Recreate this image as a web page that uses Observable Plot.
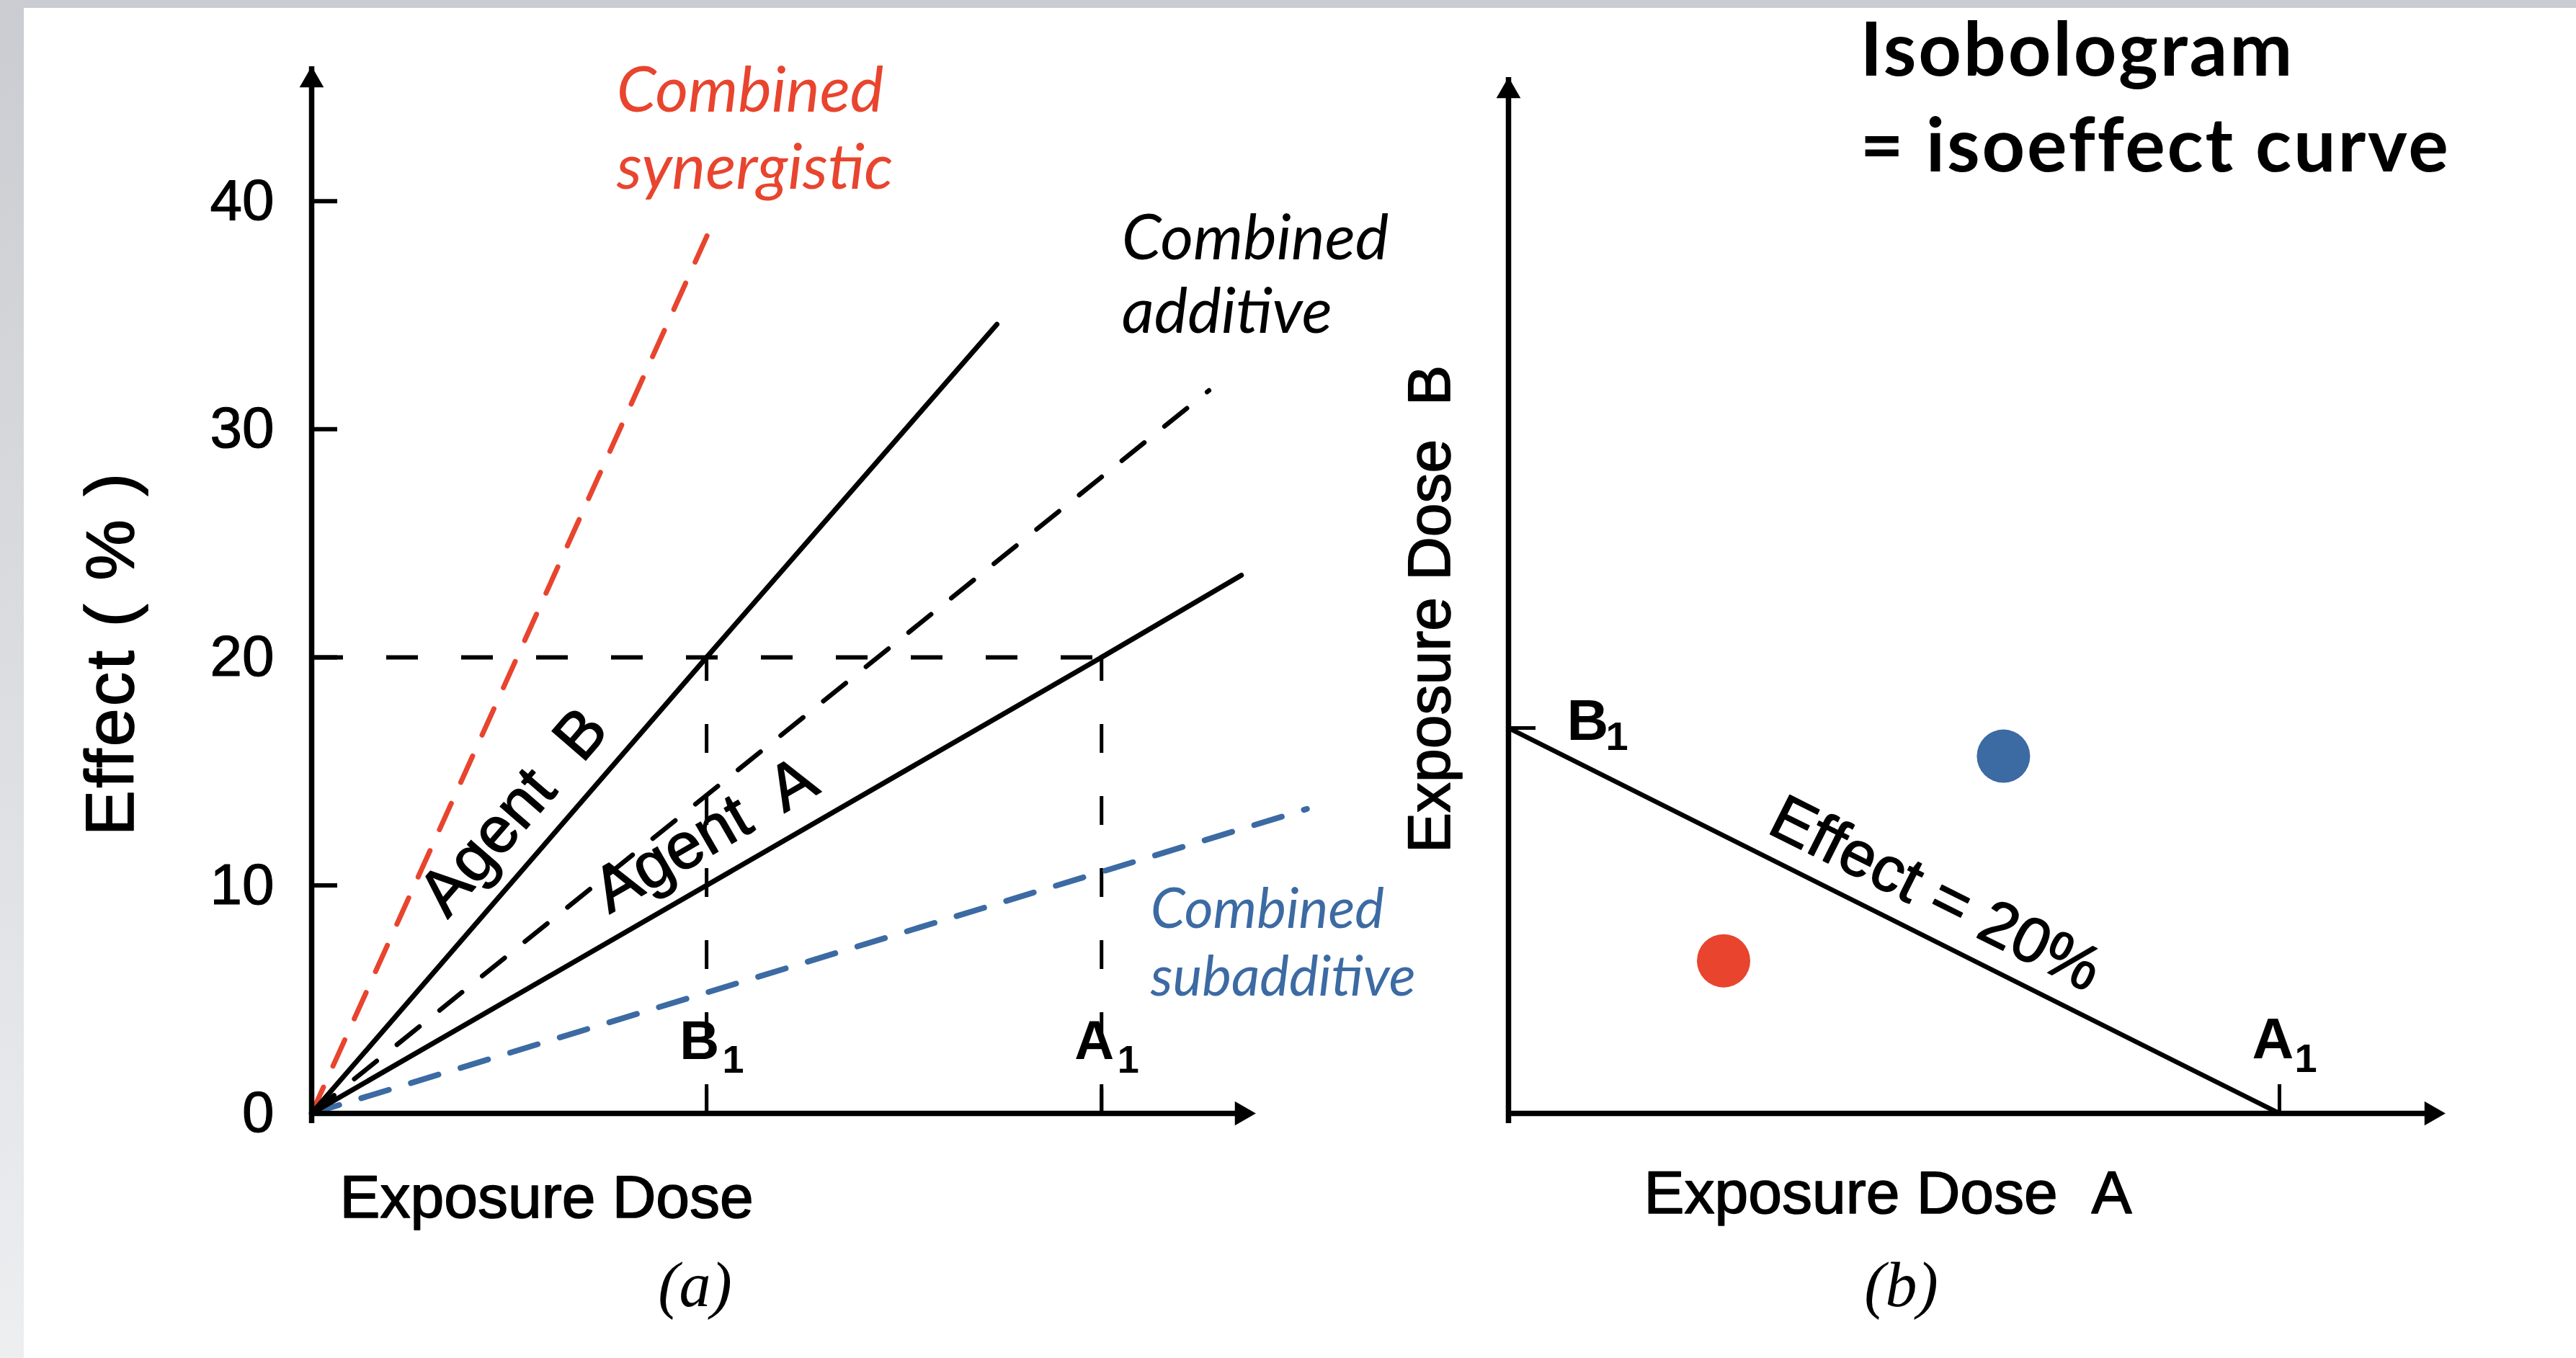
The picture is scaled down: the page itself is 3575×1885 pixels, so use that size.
<!DOCTYPE html>
<html>
<head>
<meta charset="utf-8">
<script src="https://cdn.jsdelivr.net/npm/d3@7"></script>
<script src="https://cdn.jsdelivr.net/npm/@observablehq/plot@0.6"></script>
<style>
html, body { margin: 0; padding: 0; background: #fff; }
#page { position: relative; width: 3575px; height: 1885px; overflow: hidden; background: #fff; }
#topbar { position: absolute; left: 0; top: 0; width: 3575px; height: 11px; background: #cbccd1; }
#leftbar { position: absolute; left: 0; top: 0; width: 33px; height: 1885px; background: linear-gradient(#cbccd1, #eceef0); }
.panel { position: absolute; top: 0; }
#left { left: 0; }
#right { left: 1790px; }
</style>
</head>
<body>
<div id="page">
  <div id="topbar"></div>
  <div id="leftbar"></div>
  <div id="left" class="panel"></div>
  <div id="right" class="panel"></div>
</div>
<script>
// ---------- Panel (a): dose–effect lines ----------
const effectTicks = [0, 10, 20, 30, 40];
const isoEffect = 20;
const doseB1 = 1;
const doseA1 = 2;
const agentBDose = [0, 1, 1.735];
const agentBEffect = [0, 20, 34.6];
const agentADose = [0, 2, 2.354];
const agentAEffect = [0, 20, 23.6];
const additiveDose = [0, 2.272];
const additiveEffect = [0, 31.7];
const synergisticDose = [0, 1.004];
const synergisticEffect = [0, 38.6];
const subadditiveDose = [0, 2.52];
const subadditiveEffect = [0, 13.35];
const doseAxisMax = 2.39;
const effectAxisMax = 45.9;

// ---------- Panel (b): isobologram ----------
const isoboleDoseA = [0, 1];
const isoboleDoseB = [1, 0];
const pointDoseA = [0.642, 0.279];
const pointDoseB = [0.927, 0.396];
const pointKind = ["subadditive", "synergistic"];
const doseAAxisMax = 1.215;
const doseBAxisMax = 2.688;

// ---------- styling ----------
const RED = "#e8442e";
const BLUE = "#3c6aa3";
const sans = "'Liberation Sans', Arial, Helvetica, sans-serif";
const calibriLike = "Lato, 'Open Sans', sans-serif";
const serif = "'Liberation Serif', 'Times New Roman', serif";
const scan = {fill: "black", stroke: "black", strokeWidth: 1.6};

const pts = (xs, ys) => xs.map((x, i) => ({x, y: ys[i]}));
const last = a => a[a.length - 1];
const triRight = {
  draw(ctx, size) {
    const y = Math.sqrt(size / (3 * Math.sqrt(3)));
    ctx.moveTo(2 * y, 0);
    ctx.lineTo(-y, -Math.sqrt(3) * y);
    ctx.lineTo(-y, Math.sqrt(3) * y);
    ctx.closePath();
  }
};
const spaceOut = (svg, re, px) =>
  d3.select(svg).selectAll("text").filter(function () { return re.test(this.textContent); }).attr("letter-spacing", px + "px");

// ---------- left panel ----------
const L = {w: 1790, h: 1885, ml: 432, mr: 48, mt: 92, mb: 340};
const Lfw = L.w - L.ml - L.mr, Lfh = L.h - L.mt - L.mb;

const leftPlot = Plot.plot({
  width: L.w, height: L.h,
  marginLeft: L.ml, marginRight: L.mr, marginTop: L.mt, marginBottom: L.mb,
  x: {domain: [0, doseAxisMax], axis: null},
  y: {domain: [0, effectAxisMax], axis: null},
  style: {background: "transparent", overflow: "visible", fontFamily: sans},
  marks: [
    Plot.ruleY([isoEffect], {x1: 0, x2: doseA1, stroke: "black", strokeWidth: 6, strokeDasharray: "44,60"}),
    Plot.ruleX([doseB1, doseA1], {x: d => d, y1: 0, y2: isoEffect, stroke: "black", strokeWidth: 5, strokeDasharray: "40,60"}),
    Plot.line(pts(subadditiveDose, subadditiveEffect), {x: "x", y: "y", stroke: BLUE, strokeWidth: 8, strokeDasharray: "40,32"}),
    Plot.line(pts(synergisticDose, synergisticEffect), {x: "x", y: "y", stroke: RED, strokeWidth: 7, strokeDasharray: "40,32"}),
    Plot.line(pts(additiveDose, additiveEffect), {x: "x", y: "y", stroke: "black", strokeWidth: 6.5, strokeDasharray: "40,36"}),
    Plot.line(pts(agentADose, agentAEffect), {x: "x", y: "y", stroke: "black", strokeWidth: 7}),
    Plot.line(pts(agentBDose, agentBEffect), {x: "x", y: "y", stroke: "black", strokeWidth: 7}),
    // axes
    Plot.ruleX([0], {y1: 0, y2: effectAxisMax, stroke: "black", strokeWidth: 7.5, insetTop: 14}),
    Plot.ruleY([0], {x1: 0, x2: doseAxisMax, stroke: "black", strokeWidth: 7.5, insetRight: 14}),
    Plot.dot([effectAxisMax], {x: 0, y: d => d, symbol: "triangle", r: 12.5, fill: "black", stroke: null, dy: 19}),
    Plot.dot([doseAxisMax], {x: d => d, y: 0, symbol: triRight, r: 12.5, fill: "black", stroke: null, dx: -19}),
    Plot.tickY(effectTicks.filter(d => d > 0), {y: d => d, stroke: "black", strokeWidth: 6, insetRight: Lfw - 36}),
    Plot.tickX([doseB1, doseA1], {x: d => d, stroke: "black", strokeWidth: 5, insetTop: Lfh - 34}),
    Plot.text(effectTicks, {x: 0, y: d => d, text: d => String(d), textAnchor: "end", lineAnchor: "middle", dx: -52, fontSize: 80, ...scan, strokeWidth: 1.2}),
    // B1 / A1 labels
    Plot.text([doseB1, doseA1], {x: d => d, y: 0, text: ["B", "A"], textAnchor: "middle", lineAnchor: "bottom", dx: -10, dy: -76, fontSize: 76, fontWeight: "bold", fill: "black"}),
    Plot.text([doseB1, doseA1], {x: d => d, y: 0, text: ["1", "1"], textAnchor: "start", lineAnchor: "bottom", dx: 22, dy: -57, fontSize: 54, fontWeight: "bold", fill: "black"}),
    // agent labels
    Plot.text([{x: doseB1 / 2, y: isoEffect / 2}], {x: "x", y: "y", text: ["Agent  B"], rotate: -49.1, textAnchor: "middle", lineAnchor: "middle", dx: 6, dy: -102, fontSize: 90, ...scan}),
    Plot.text([{x: doseA1 / 2, y: isoEffect / 2}], {x: "x", y: "y", text: ["Agent  A"], rotate: -30, textAnchor: "middle", lineAnchor: "middle", dx: -2, dy: -70, fontSize: 90, ...scan}),
    // combined labels
    Plot.text([{x: last(synergisticDose), y: last(synergisticEffect)}], {x: "x", y: "y", text: ["Combined\nsynergistic"], textAnchor: "start", lineAnchor: "bottom", dx: -127, dy: -62, fontSize: 88, lineHeight: 107 / 88, fontStyle: "italic", fontFamily: calibriLike, fill: RED}),
    Plot.text([{x: last(additiveDose), y: last(additiveEffect)}], {x: "x", y: "y", text: ["Combined\nadditive"], textAnchor: "start", lineAnchor: "bottom", dx: -121, dy: -80, fontSize: 88, lineHeight: 102 / 88, fontStyle: "italic", fontFamily: calibriLike, fill: "black"}),
    Plot.text([{x: last(subadditiveDose), y: last(subadditiveEffect)}], {x: "x", y: "y", text: ["Combined\nsubadditive"], textAnchor: "start", lineAnchor: "bottom", dx: -217, dy: 259, fontSize: 77, lineHeight: 94 / 77, fontStyle: "italic", fontFamily: calibriLike, fill: BLUE}),
    // axis titles
    Plot.text(["Exposure Dose"], {frameAnchor: "bottom-left", text: d => d, textAnchor: "start", lineAnchor: "bottom", dx: 39, dy: 144, fontSize: 84, ...scan}),
    Plot.text(["Effect ( % )"], {frameAnchor: "left", text: d => d, rotate: -90, textAnchor: "middle", lineAnchor: "bottom", dx: -248, dy: 88, fontSize: 95, ...scan}),
    Plot.text(["(a)"], {frameAnchor: "bottom-left", text: d => d, textAnchor: "middle", lineAnchor: "bottom", dx: 532, dy: 267, fontSize: 88, fontStyle: "italic", fontFamily: serif, fill: "black"})
  ]
});
spaceOut(leftPlot, /^Effect \(/, 3.2);
document.getElementById("left").appendChild(leftPlot);

// ---------- right panel ----------
const R = {w: 1785, h: 1885, ml: 303, mr: 182, mt: 107, mb: 340};
const Rfw = R.w - R.ml - R.mr, Rfh = R.h - R.mt - R.mb;

const rightPlot = Plot.plot({
  width: R.w, height: R.h,
  marginLeft: R.ml, marginRight: R.mr, marginTop: R.mt, marginBottom: R.mb,
  x: {domain: [0, doseAAxisMax], axis: null},
  y: {domain: [0, doseBAxisMax], axis: null},
  color: {domain: ["synergistic", "subadditive"], range: [RED, BLUE]},
  style: {background: "transparent", overflow: "visible", fontFamily: sans},
  marks: [
    Plot.line(pts(isoboleDoseA, isoboleDoseB), {x: "x", y: "y", stroke: "black", strokeWidth: 6.5}),
    Plot.ruleX([0], {y1: 0, y2: doseBAxisMax, stroke: "black", strokeWidth: 7.5, insetTop: 14}),
    Plot.ruleY([0], {x1: 0, x2: doseAAxisMax, stroke: "black", strokeWidth: 7.5, insetRight: 14}),
    Plot.dot([doseBAxisMax], {x: 0, y: d => d, symbol: "triangle", r: 12.5, fill: "black", stroke: null, dy: 19}),
    Plot.dot([doseAAxisMax], {x: d => d, y: 0, symbol: triRight, r: 12.5, fill: "black", stroke: null, dx: -19}),
    Plot.tickY([isoboleDoseB[0]], {y: d => d, stroke: "black", strokeWidth: 5, insetRight: Rfw - 38}),
    Plot.tickX([isoboleDoseA[1]], {x: d => d, stroke: "black", strokeWidth: 5, insetTop: Rfh - 40}),
    Plot.dot(pointDoseA.map((a, i) => ({a, b: pointDoseB[i], kind: pointKind[i]})), {x: "a", y: "b", fill: "kind", r: 37, stroke: null}),
    // B1 / A1 labels
    Plot.text([isoboleDoseB[0]], {x: 0, y: d => d, text: ["B"], textAnchor: "start", lineAnchor: "bottom", dx: 81, dy: 16, fontSize: 80, fontWeight: "bold", fill: "black"}),
    Plot.text([isoboleDoseB[0]], {x: 0, y: d => d, text: ["1"], textAnchor: "start", lineAnchor: "bottom", dx: 135, dy: 30, fontSize: 56, fontWeight: "bold", fill: "black"}),
    Plot.text([isoboleDoseA[1]], {x: d => d, y: 0, text: ["A"], textAnchor: "middle", lineAnchor: "bottom", dx: -9, dy: -77, fontSize: 80, fontWeight: "bold", fill: "black"}),
    Plot.text([isoboleDoseA[1]], {x: d => d, y: 0, text: ["1"], textAnchor: "start", lineAnchor: "bottom", dx: 21, dy: -58, fontSize: 56, fontWeight: "bold", fill: "black"}),
    Plot.text([{x: 0.5, y: 0.5}], {x: "x", y: "y", text: ["Effect = 20%"], rotate: 26.57, textAnchor: "middle", lineAnchor: "middle", dx: 58, dy: -37, fontSize: 88, ...scan}),
    // axis titles
    Plot.text(["Exposure Dose\u00a0\u00a0A"], {frameAnchor: "bottom-left", text: d => d, textAnchor: "start", lineAnchor: "bottom", dx: 188, dy: 138, fontSize: 84, ...scan}),
    Plot.text(["Exposure Dose\u00a0\u00a0B"], {frameAnchor: "left", text: d => d, rotate: -90, textAnchor: "middle", lineAnchor: "bottom", dx: -82, dy: 19, fontSize: 84, ...scan}),
    Plot.text(["(b)"], {frameAnchor: "bottom-left", text: d => d, textAnchor: "middle", lineAnchor: "bottom", dx: 545, dy: 267, fontSize: 88, fontStyle: "italic", fontFamily: serif, fill: "black"}),
    // title
    Plot.text(["Isobologram\n= isoeffect curve"], {frameAnchor: "top-left", text: d => d, textAnchor: "start", lineAnchor: "bottom", dx: 488, dy: 130, fontSize: 104, lineHeight: 133 / 104, fontWeight: "bold", fontFamily: calibriLike, fill: "black"})
  ]
});
spaceOut(rightPlot, /^Isobologram/, 2.8);
document.getElementById("right").appendChild(rightPlot);
</script>
</body>
</html>
